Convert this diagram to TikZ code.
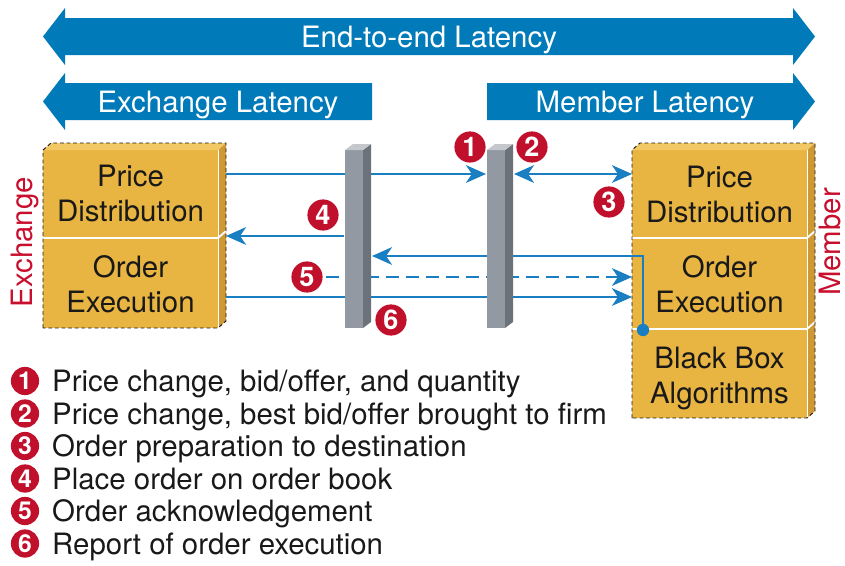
\documentclass[tikz,border=0pt]{standalone}
\usepackage{fontspec}
\setmainfont{TeX Gyre Heros}
\usetikzlibrary{arrows.meta}

\definecolor{bannerblue}{RGB}{0,122,184}
\definecolor{lineblue}{RGB}{26,126,194}
\definecolor{badgered}{RGB}{192,16,44}
\definecolor{labelred}{RGB}{200,16,46}
\definecolor{boxfront}{RGB}{233,181,66}
\definecolor{boxside}{RGB}{206,152,52}
\definecolor{boxtop}{RGB}{241,200,100}
\definecolor{barfront}{RGB}{146,153,162}
\definecolor{barside}{RGB}{108,114,122}
\definecolor{bartop}{RGB}{196,200,205}
\definecolor{ink}{RGB}{25,25,25}

% one extruded block: front face and right side face
\newcommand\slabblock[4]{%
  \fill[boxfront] (#1,#3) rectangle (#2,#4);
  \fill[boxside] (#2,#3) -- (#2+8,#3-7) -- (#2+8,#4-7) -- (#2,#4) -- cycle;
  \draw[white, line width=0.6pt] (#2,#3) -- (#2,#4);
}
% top face of a stack of blocks
\newcommand\slabtop[3]{%
  \fill[boxtop] (#1,#3) -- (#1+8,#3-7) -- (#2+8,#3-7) -- (#2,#3) -- cycle;
}
% white seam between two stacked blocks
\newcommand\slabseam[3]{%
  \draw[white, line width=1.6pt] (#1,#3) -- (#2,#3) -- (#2+8,#3-7);
}
% upright grey post
\newcommand\gpost[2]{%
  \fill[barfront] (#1,150) rectangle (#2,328);
  \fill[barside] (#2,150) -- (#2+8,144) -- (#2+8,322) -- (#2,328) -- cycle;
  \fill[bartop] (#1,150) -- (#1+8,144) -- (#2+8,144) -- (#2,150) -- cycle;
}

\tikzset{
  txt/.style={font=\fontsize{25pt}{30pt}\selectfont, text=ink, inner sep=0pt},
  boxline/.style={txt, anchor=base},
  bannertext/.style={font=\fontsize{25pt}{30pt}\selectfont, text=white, inner sep=0pt, anchor=base},
  sidelabel/.style={font=\fontsize{25pt}{30pt}\selectfont, text=labelred, inner sep=0pt, anchor=base, rotate=90},
  flow/.style={draw=lineblue, line width=1.9pt},
  tip/.style={-{Stealth[length=17pt, width=15pt, inset=5pt]}},
  twotip/.style={{Stealth[length=17pt, width=15pt, inset=5pt]}-{Stealth[length=17pt, width=15pt, inset=5pt]}},
  badge/.style={circle, fill=badgered, text=white, inner sep=0pt, minimum size=26.5pt,
    font=\fontsize{23pt}{23pt}\selectfont\bfseries},
  keybadge/.style={circle, fill=badgered, text=white, inner sep=0pt, minimum size=24pt,
    font=\fontsize{21pt}{21pt}\selectfont\bfseries},
  keytext/.style={txt, anchor=base west},
  outline/.style={draw=ink, line width=0.8pt, dash pattern=on 3.2pt off 2.4pt},
  knot/.style={circle, fill=lineblue, inner sep=0pt, minimum size=10.5pt},
}

\begin{document}
\begin{tikzpicture}[x=0.85pt, y=-0.85pt]
\useasboundingbox (0,0) rectangle (845,565);

% latency banners
\fill[bannerblue] (43,36.5) -- (65,8) -- (65,18) -- (793,18) -- (793,8) -- (815,36.5)
  -- (793,65) -- (793,55) -- (65,55) -- (65,65) -- cycle;
\fill[bannerblue] (43,101.5) -- (65,73) -- (65,83) -- (372,83) -- (372,120) -- (65,120)
  -- (65,130) -- cycle;
\fill[bannerblue] (487,83) -- (793,83) -- (793,73) -- (815,101.5) -- (793,130)
  -- (793,120) -- (487,120) -- cycle;
\node[bannertext] (e2e) at (429,47) {End-to-end Latency};
\node[bannertext] (exlat) at (218,112) {Exchange Latency};
\node[bannertext] (melat) at (645,112) {Member Latency};

% exchange stack
\slabblock{43}{218}{150}{238}
\slabblock{43}{218}{238}{328}
\slabtop{43}{218}{150}
\slabseam{43}{218}{238}
\draw[outline] (43,328) -- (43,150) -- (51,143) -- (226,143) -- (226,321) -- (218,328) -- cycle;

% member stack
\slabblock{632}{807}{150}{238}
\slabblock{632}{807}{238}{329}
\slabblock{632}{807}{329}{418}
\slabtop{632}{807}{150}
\slabseam{632}{807}{238}
\slabseam{632}{807}{329}
\draw[outline] (632,418) -- (632,150) -- (640,143) -- (815,143) -- (815,411) -- (807,418) -- cycle;

% block labels
\node[boxline] (exp1) at (130.5,186) {Price};
\node[boxline] (exp2) at (130.5,221) {Distribution};
\node[boxline] (exo1) at (130.5,277) {Order};
\node[boxline] (exo2) at (130.5,312) {Execution};
\node[boxline] (mep1) at (719.5,187) {Price};
\node[boxline] (mep2) at (719.5,222) {Distribution};
\node[boxline] (meo1) at (719.5,277) {Order};
\node[boxline] (meo2) at (719.5,312) {Execution};
\node[boxline] (mea1) at (719.5,368) {Black Box};
\node[boxline] (mea2) at (719.5,403) {Algorithms};

\node[sidelabel] (exchlabel) at (32,242) {Exchange};
\node[sidelabel] (memblabel) at (840,242) {Member};

% connector end points
\coordinate (exPD) at (226,174);
\coordinate (postBin) at (486,174);
\coordinate (postBout) at (514,174);
\coordinate (mePD) at (632,174);
\coordinate (postAfront) at (344,236);
\coordinate (exIn) at (226,236);
\coordinate (postAside) at (372,256);
\coordinate (ackStart) at (326,277);
\coordinate (meAck) at (632,277);
\coordinate (exOE) at (226,297);
\coordinate (meOE) at (632,297);

% message flows
\draw[flow, tip] (exPD) -- (postBin);
\draw[flow, twotip] (postBout) -- (mePD);
\draw[flow, tip] (postAfront) -- (exIn);
\node[knot] (algo) at (643,330) {};
\draw[flow, tip] (algo.center) |- (postAside);
\draw[flow, tip, dash pattern=on 11pt off 6pt] (ackStart) -- (meAck);
\draw[flow, tip] (exOE) -- (meOE);

% posts
\gpost{345}{363}
\gpost{487}{505}

% step badges
\node[badge] (b1) at (470,147) {1};
\node[badge] (b2) at (532,147) {2};
\node[badge] (b3) at (609,202) {3};
\node[badge] (b4) at (323,215) {4};
\node[badge] (b5) at (307,277) {5};
\node[badge] (b6) at (391,320) {6};

% key
\node[keybadge] (k1) at (25,381) {1};
\node[keybadge] (k2) at (25,413.5) {2};
\node[keybadge] (k3) at (25,446) {3};
\node[keybadge] (k4) at (25,478.5) {4};
\node[keybadge] (k5) at (25,511) {5};
\node[keybadge] (k6) at (25,543.5) {6};
\node[keytext] (t1) at (52,391.5) {Price change, bid/offer, and quantity};
\node[keytext] (t2) at (52,424) {Price change, best bid/offer brought to firm};
\node[keytext] (t3) at (52,456.5) {Order preparation to destination};
\node[keytext] (t4) at (52,489) {Place order on order book};
\node[keytext] (t5) at (52,521.5) {Order acknowledgement};
\node[keytext] (t6) at (52,554) {Report of order execution};
\end{tikzpicture}
\end{document}
